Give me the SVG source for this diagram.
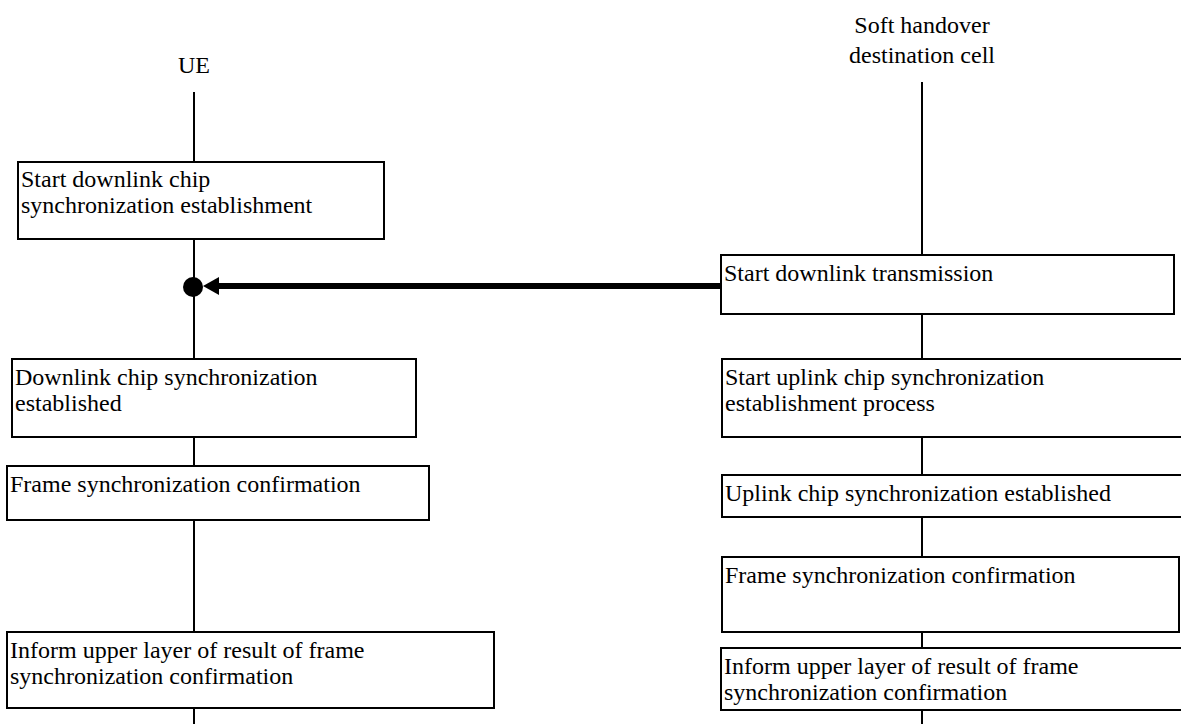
<svg xmlns="http://www.w3.org/2000/svg" width="1181" height="724" viewBox="0 0 1181 724">
<style>
text{font-family:'Liberation Serif',serif;font-size:24px;fill:#000}
.box{fill:#fff;stroke:#000;stroke-width:2}
.life{stroke:#000;stroke-width:2;fill:none}
.lbl{text-anchor:middle}
</style>
<rect width="1181" height="724" fill="#fff"/>
<g id="connectors">
<line class="life" x1="194" y1="92" x2="194" y2="724"/>
<line class="life" x1="922" y1="82" x2="922" y2="724"/>
<line x1="218" y1="286" x2="721" y2="286" stroke="#000" stroke-width="6"/>
<polygon points="203,286 219,277 219,295" fill="#000"/>
<circle cx="193" cy="287" r="10" fill="#000"/>
</g>
<g id="ue" font-family="Liberation Serif"><text class="lbl" x="194" y="73">UE</text></g>
<g id="cell" font-family="Liberation Serif"><text class="lbl" x="922" y="33">Soft handover</text><text class="lbl" x="922" y="63">destination cell</text></g>
<g id="l1" font-family="Liberation Serif"><rect class="box" x="18" y="162" width="366" height="77"/><text x="21" y="187">Start downlink chip</text><text x="21" y="213">synchronization establishment</text></g>
<g id="l2" font-family="Liberation Serif"><rect class="box" x="12" y="359" width="404" height="78"/><text x="15" y="385">Downlink chip synchronization</text><text x="15" y="411">established</text></g>
<g id="l3" font-family="Liberation Serif"><rect class="box" x="7" y="466" width="422" height="54"/><text x="10" y="492">Frame synchronization confirmation</text></g>
<g id="l4" font-family="Liberation Serif"><rect class="box" x="7" y="632" width="487" height="76"/><text x="10" y="658">Inform upper layer of result of frame</text><text x="10" y="684">synchronization confirmation</text></g>
<g id="r1" font-family="Liberation Serif"><rect class="box" x="721" y="255" width="453" height="59"/><text x="724" y="281">Start downlink transmission</text></g>
<g id="r2" font-family="Liberation Serif"><rect class="box" x="722" y="359" width="470" height="78"/><text x="725" y="385">Start uplink chip synchronization</text><text x="725" y="411">establishment process</text></g>
<g id="r3" font-family="Liberation Serif"><rect class="box" x="722" y="475" width="470" height="42"/><text x="725" y="501">Uplink chip synchronization established</text></g>
<g id="r4" font-family="Liberation Serif"><rect class="box" x="722" y="557" width="457" height="75"/><text x="725" y="583">Frame synchronization confirmation</text></g>
<g id="r5" font-family="Liberation Serif"><rect class="box" x="721" y="648" width="470" height="62"/><text x="724" y="674">Inform upper layer of result of frame</text><text x="724" y="700">synchronization confirmation</text></g>
</svg>
